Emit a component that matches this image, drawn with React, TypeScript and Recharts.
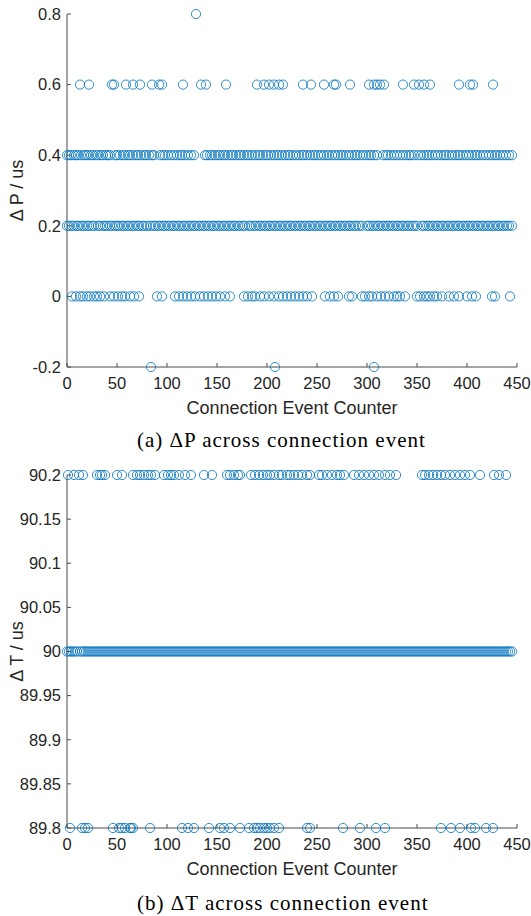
import { Scatter, ScatterChart, XAxis, YAxis } from "recharts";

// counter values, one list per level
const xTicks = [0, 50, 100, 150, 200, 250, 300, 350, 400, 450];
const pTicks = [-0.2, 0, 0.2, 0.4, 0.6, 0.8];
const tTicks = [89.8, 89.85, 89.9, 89.95, 90, 90.05, 90.1, 90.15, 90.2];

const pAt08 = [129];
const pAt06 = [13, 22, 45, 47, 59, 66, 73, 85, 92, 95, 116, 134, 139, 159, 190, 197, 202, 207, 212, 216, 236, 244, 257, 267, 269, 283, 302, 307, 310, 313, 317, 336, 347, 352, 357, 363, 392, 403, 406, 426];
const pAt04 = [0, 2, 4, 7, 9, 11, 14, 17, 19, 21, 24, 26, 29, 31, 34, 36, 39, 41, 43, 48, 50, 53, 56, 58, 61, 63, 66, 69, 71, 74, 77, 79, 82, 85, 87, 93, 96, 98, 101, 104, 107, 110, 113, 115, 118, 121, 124, 127, 138, 140, 143, 145, 148, 151, 153, 156, 158, 161, 164, 166, 169, 172, 174, 177, 180, 182, 185, 188, 191, 193, 196, 199, 201, 204, 207, 210, 212, 215, 218, 221, 223, 226, 229, 232, 235, 237, 240, 243, 246, 248, 251, 254, 257, 260, 262, 265, 268, 271, 274, 276, 279, 282, 285, 288, 290, 293, 296, 299, 302, 304, 307, 310, 316, 319, 321, 324, 327, 330, 333, 336, 339, 342, 344, 347, 351, 354, 357, 360, 362, 365, 368, 371, 374, 377, 379, 382, 385, 388, 391, 393, 396, 399, 402, 405, 408, 410, 413, 416, 419, 422, 425, 428, 430, 433, 436, 439, 442, 445];
const pAt02 = [0, 2, 5, 7, 10, 12, 15, 17, 20, 22, 25, 27, 31, 33, 36, 38, 40, 43, 45, 48, 50, 52, 55, 57, 60, 62, 65, 67, 70, 72, 75, 77, 80, 83, 86, 88, 91, 93, 96, 98, 101, 103, 106, 108, 111, 113, 116, 118, 121, 123, 126, 128, 131, 133, 136, 138, 141, 143, 146, 148, 151, 153, 156, 158, 161, 163, 166, 168, 171, 173, 176, 178, 182, 184, 187, 189, 192, 194, 197, 199, 202, 204, 207, 209, 212, 214, 217, 219, 222, 224, 227, 229, 232, 234, 237, 239, 242, 244, 247, 249, 252, 254, 257, 259, 262, 264, 267, 269, 272, 274, 277, 279, 282, 284, 287, 289, 292, 295, 300, 302, 305, 307, 310, 312, 315, 317, 320, 322, 325, 327, 330, 332, 335, 337, 340, 342, 345, 347, 350, 355, 357, 360, 362, 365, 367, 370, 372, 375, 377, 380, 382, 385, 387, 390, 392, 395, 397, 400, 402, 405, 407, 410, 412, 415, 417, 420, 422, 425, 427, 430, 432, 435, 437, 440, 442, 445];
const pAt0 = [5, 9, 13, 16, 20, 23, 27, 30, 33, 37, 43, 47, 51, 55, 58, 63, 67, 72, 90, 95, 108, 112, 116, 120, 124, 128, 133, 137, 141, 145, 149, 153, 158, 163, 177, 181, 185, 188, 193, 197, 202, 207, 212, 216, 220, 224, 228, 232, 236, 240, 245, 258, 263, 267, 271, 282, 285, 295, 298, 302, 305, 310, 314, 318, 322, 327, 330, 333, 338, 350, 353, 357, 360, 363, 367, 370, 375, 382, 387, 392, 400, 405, 409, 425, 428, 443];
const pAtMinus02 = [84, 208, 307];

const tAt902 = [1, 7, 12, 16, 30, 33, 35, 38, 50, 55, 66, 70, 73, 77, 81, 84, 88, 97, 101, 104, 107, 112, 118, 124, 137, 145, 160, 163, 167, 171, 173, 184, 188, 192, 196, 200, 203, 207, 212, 215, 220, 223, 227, 231, 235, 240, 243, 252, 255, 260, 265, 270, 273, 277, 287, 292, 297, 302, 307, 312, 318, 323, 329, 355, 358, 362, 366, 370, 374, 378, 383, 388, 393, 398, 403, 413, 427, 432, 439];
const tAt90 = [0, 2, 4, 6, 8, 10, 13, 15, 17, 19, 21, 23, 25, 27, 29, 31, 33, 35, 37, 39, 41, 43, 45, 47, 49, 51, 53, 55, 57, 59, 61, 63, 65, 67, 69, 71, 73, 75, 77, 79, 81, 83, 85, 87, 89, 91, 93, 95, 97, 99, 101, 103, 105, 107, 109, 111, 113, 115, 117, 119, 121, 123, 125, 127, 129, 131, 133, 135, 137, 139, 141, 143, 145, 147, 149, 151, 153, 155, 157, 159, 161, 163, 165, 167, 169, 171, 173, 175, 177, 179, 181, 183, 185, 187, 189, 191, 193, 195, 197, 199, 201, 203, 205, 207, 209, 211, 213, 215, 217, 219, 221, 223, 225, 227, 229, 231, 233, 235, 237, 239, 241, 243, 245, 247, 249, 251, 253, 255, 257, 259, 261, 263, 265, 267, 269, 271, 273, 275, 277, 279, 281, 283, 285, 287, 289, 291, 293, 295, 297, 299, 301, 303, 305, 307, 309, 311, 313, 315, 317, 319, 321, 323, 325, 327, 329, 331, 333, 335, 337, 339, 341, 343, 345, 347, 349, 351, 353, 355, 357, 359, 361, 363, 365, 367, 369, 371, 373, 375, 377, 379, 381, 383, 385, 387, 389, 391, 393, 395, 397, 399, 401, 403, 405, 407, 409, 411, 413, 415, 417, 419, 421, 423, 425, 427, 429, 431, 433, 435, 437, 439, 441, 443, 445];
const tAt898 = [3, 15, 18, 21, 46, 52, 55, 58, 63, 64, 66, 83, 115, 121, 127, 142, 153, 157, 163, 173, 182, 187, 190, 193, 197, 200, 203, 207, 212, 240, 243, 276, 293, 309, 318, 374, 384, 393, 404, 408, 419, 426];

type Pt = { x: number; y: number };

const toPoints = (levels: [number, number[]][]): Pt[] =>
  levels.flatMap(([level, counters]) => counters.map((c) => ({ x: c, y: level })));

const pPoints = toPoints([
  [0.8, pAt08],
  [0.6, pAt06],
  [0.4, pAt04],
  [0.2, pAt02],
  [0, pAt0],
  [-0.2, pAtMinus02],
]);

const tPoints = toPoints([
  [90.2, tAt902],
  [90, tAt90],
  [89.8, tAt898],
]);

const axisColor = "#4a4a4a";
const textColor = "#262626";
const markerColor = "#0072BD";
const sans = "Liberation Sans, Arial, sans-serif";
const serif = "Liberation Serif, Times New Roman, serif";

function Ring(props: any) {
  const { cx, cy } = props;
  if (cx == null || cy == null) return null;
  return <circle cx={cx} cy={cy} r={4.6} fill="none" stroke={markerColor} strokeWidth={0.8} />;
}

function Panel({ points, yTicks, yLabel }: { points: Pt[]; yTicks: number[]; yLabel: string }) {
  return (
    <ScatterChart width={531} height={420} margin={{ top: 14, right: 14, bottom: 0, left: 0 }}>
      <XAxis
        type="number"
        dataKey="x"
        domain={[0, 450]}
        ticks={xTicks}
        height={53}
        tickSize={-4}
        tickMargin={14}
        stroke={axisColor}
        tick={{ fill: textColor, fontSize: 16.5, fontFamily: sans }}
        label={{ value: "Connection Event Counter", position: "insideBottom", offset: 6, fill: textColor, fontSize: 18, fontFamily: sans }}
      />
      <YAxis
        type="number"
        dataKey="y"
        domain={[yTicks[0], yTicks[yTicks.length - 1]]}
        ticks={yTicks}
        width={67}
        tickSize={-4}
        tickMargin={10}
        stroke={axisColor}
        tickFormatter={(v: number) => String(v)}
        tick={{ fill: textColor, fontSize: 16.5, fontFamily: sans }}
        label={{ value: yLabel, angle: -90, position: "insideLeft", offset: 17, fill: textColor, fontSize: 18, fontFamily: sans, style: { textAnchor: "middle" } }}
      />
      <Scatter data={points} shape={<Ring />} isAnimationActive={false} />
    </ScatterChart>
  );
}

const captionStyle = {
  position: "absolute" as const,
  left: 137,
  whiteSpace: "nowrap" as const,
  fontFamily: serif,
  fontSize: 21,
  lineHeight: "24px",
  letterSpacing: 1,
  color: "#000",
};

export default function App() {
  return (
    <div style={{ position: "relative", width: 531, height: 916, background: "#fff" }}>
      <style>{"body{margin:0}"}</style>
      <div style={{ position: "absolute", left: 0, top: 0 }}>
        <Panel points={pPoints} yTicks={pTicks} yLabel="Δ P / us" />
      </div>
      <div style={{ ...captionStyle, top: 428 }}>(a) ΔP across connection event</div>
      <div style={{ position: "absolute", left: 0, top: 461 }}>
        <Panel points={tPoints} yTicks={tTicks} yLabel="Δ T / us" />
      </div>
      <div style={{ ...captionStyle, top: 891 }}>(b) ΔT across connection event</div>
    </div>
  );
}
